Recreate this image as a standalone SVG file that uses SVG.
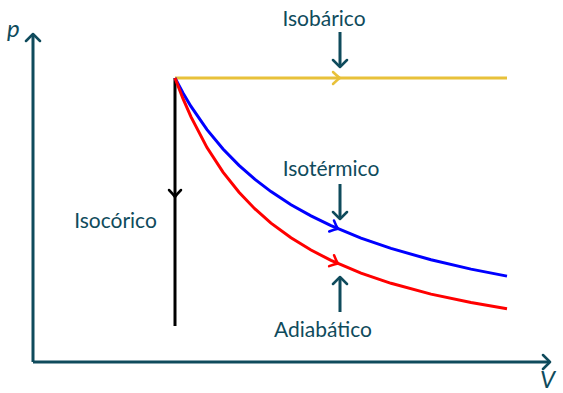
<svg xmlns="http://www.w3.org/2000/svg" width="563" height="393" viewBox="0 0 563 393">
<style>
.lbl{font-family:Lato,"Open Sans","DejaVu Sans",sans-serif;font-size:21px;fill:#0f4b5c;text-anchor:middle}
.var{font-family:Lato,"Open Sans","DejaVu Sans",sans-serif;font-size:24px;font-style:italic;fill:#0f4b5c}
.ax{stroke:#0f4b5c;stroke-width:3;fill:none}
.head{fill:none;stroke-width:2.5;stroke-linecap:round;stroke-linejoin:round}
.curve{fill:none;stroke-width:3}
</style>
<rect width="563" height="393" fill="#fff"/>
<g id="axes">
<path class="ax" d="M33 362 V34 M33 362 H550"/>
<path class="ax head" d="M26 41 L33 34 L40 41 M543 355 L550 362 L543 369"/>
<text class="var" x="7" y="37">p</text>
<text class="var" x="540" y="388">V</text>
</g>
<g id="connectors">
<path class="curve" stroke="#e8c13a" d="M175 78 H507"/>
<path class="head" stroke="#e8c13a" d="M333 72 Q337 76 340 78 Q337 80 333 84"/>
<path class="curve" stroke="#000" d="M175 78 V326"/>
<path class="head" stroke="#000" d="M169 190 Q173 194 175 197 Q177 194 181 190"/>
<path class="curve" stroke="#0000ff" d="M175 78 L183 93 L191 106.4 L207 129.6 L223 149 L239 165.4 L255 179.4 L271 191.6 L291 204.7 L311 215.9 L331 225.7 L361 238.1 L391 248.4 L431 259.8 L471 269.1 L507 276.1"/>
<path class="head" stroke="#0000ff" transform="translate(338 228.8) rotate(23.5)" d="M-7 -6 Q-3 -2 0 0 Q-3 2 -7 6"/>
<path class="curve" stroke="#ff0000" d="M175 78 L183 98.7 L191 116.9 L207 147.6 L223 172.1 L239 192.3 L255 209 L271 223.1 L291 237.8 L311 250 L331 260.4 L361 273.1 L391 283.3 L431 294.1 L471 302.5 L507 308.7"/>
<path class="head" stroke="#ff0000" transform="translate(338 263.6) rotate(24.2)" d="M-7 -6 Q-3 -2 0 0 Q-3 2 -7 6"/>
<path class="ax" d="M340 32 V67 M340 184 V219 M340 312 V277"/>
<path class="ax head" d="M333 60 L340 67 L347 60 M333 212 L340 219 L347 212 M333 284 L340 277 L347 284"/>
</g>
<g id="isobarico"><text class="lbl" x="324" y="25.5">Isobárico</text></g>
<g id="isotermico"><text class="lbl" x="331" y="176">Isotérmico</text></g>
<g id="adiabatico"><text class="lbl" x="323" y="337">Adiabático</text></g>
<g id="isocorico"><text class="lbl" x="115.5" y="228">Isocórico</text></g>
</svg>
